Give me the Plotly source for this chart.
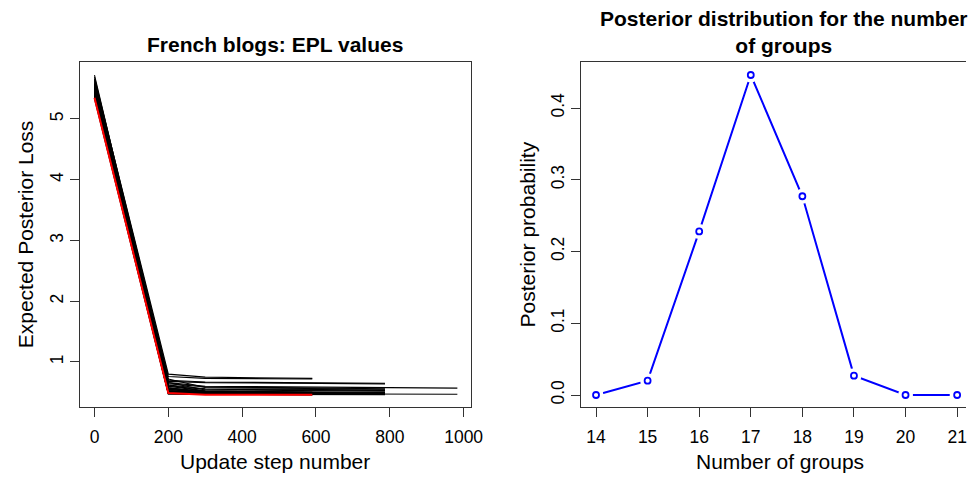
import plotly.graph_objects as go

# ---------------- Left panel data: EPL trajectories ----------------
# Each run: EPL at step 0, at step 200, at step 300, final plateau value, last step
epl_step0 = [5.72, 5.66, 5.62, 5.60, 5.58, 5.56, 5.55, 5.53, 5.52, 5.50,
             5.49, 5.48, 5.47, 5.46, 5.45, 5.44, 5.43, 5.42, 5.41, 5.40,
             5.39, 5.38, 5.44, 5.51, 5.57, 5.47, 5.33, 5.64, 5.36, 5.69]
epl_step200 = [0.60, 0.80, 0.76, 0.62, 0.58, 0.55, 0.70, 0.68, 0.64, 0.52,
               0.50, 0.62, 0.60, 0.66, 0.57, 0.55, 0.48, 0.53, 0.66, 0.51,
               0.52, 0.49, 0.53, 0.57, 0.50, 0.48, 0.47, 0.55, 0.48, 0.72]
epl_step300 = [0.52, 0.75, 0.73, 0.52, 0.49, 0.48, 0.67, 0.66, 0.59, 0.48,
               0.47, 0.56, 0.55, 0.54, 0.52, 0.51, 0.47, 0.49, 0.60, 0.48,
               0.48, 0.47, 0.49, 0.50, 0.48, 0.47, 0.47, 0.50, 0.47, 0.58]
epl_final = [0.50, 0.73, 0.72, 0.50, 0.48, 0.47, 0.65, 0.64, 0.56, 0.47,
             0.46, 0.54, 0.53, 0.52, 0.50, 0.49, 0.47, 0.48, 0.57, 0.47,
             0.47, 0.46, 0.48, 0.49, 0.47, 0.47, 0.46, 0.49, 0.46, 0.55]
last_step = [590, 590, 590, 590, 590, 590, 787, 787, 787, 590,
             590, 787, 787, 787, 787, 787, 787, 787, 983, 983,
             590, 590, 787, 590, 787, 590, 590, 787, 787, 787]

# Best run (red)
red_steps = [0, 200, 300, 590]
red_epl = [5.35, 0.49, 0.46, 0.46]

# ---------------- Right panel data ----------------
n_groups = [14, 15, 16, 17, 18, 19, 20, 21]
post_prob = [0.000, 0.020, 0.228, 0.446, 0.277, 0.027, 0.000, 0.000]

# Target window and browser default body margin (8px) compensation
WIN_W, WIN_H = 979, 478
OFF = 8
W, H = WIN_W - OFF, WIN_H - OFF
FONT = "Liberation Sans, Arial, Helvetica, sans-serif"
AX = "#333333"

def px(xp):
    return (xp - OFF) / W

def py(yp):
    return 1 - (yp - OFF) / H

fig = go.Figure()

for s0, s200, s300, sf, ls in zip(epl_step0, epl_step200, epl_step300, epl_final, last_step):
    fig.add_trace(go.Scatter(
        x=[0, 200, 300, ls], y=[s0, s200, s300, sf],
        mode="lines", line=dict(color="black", width=1.1),
        xaxis="x", yaxis="y", showlegend=False, hoverinfo="skip"))

fig.add_trace(go.Scatter(
    x=red_steps, y=red_epl, mode="lines",
    line=dict(color="#FF0000", width=2),
    xaxis="x", yaxis="y", showlegend=False))

# Right panel: type = "b" (lines with gaps around points)
fig.add_trace(go.Scatter(
    x=n_groups, y=post_prob, mode="lines",
    line=dict(color="#0000FF", width=2),
    xaxis="x2", yaxis="y2", showlegend=False))
fig.add_trace(go.Scatter(
    x=n_groups, y=post_prob, mode="markers",
    marker=dict(symbol="circle", size=15, color="white", line=dict(width=0)),
    xaxis="x2", yaxis="y2", showlegend=False, hoverinfo="skip"))
fig.add_trace(go.Scatter(
    x=n_groups, y=post_prob, mode="markers",
    marker=dict(symbol="circle", size=6, color="white",
                line=dict(color="#0000FF", width=1.8)),
    xaxis="x2", yaxis="y2", showlegend=False))

axis_common = dict(
    showgrid=False, zeroline=False, showline=True, linecolor=AX, linewidth=1,
    ticks="outside", ticklen=9, tickwidth=1, tickcolor=AX,
    tickfont=dict(family=FONT, size=17.5, color="black"),
)

ydom = [py(407), py(62)]

fig.update_layout(
    width=W, height=H,
    margin=dict(l=0, r=0, t=0, b=0),
    paper_bgcolor="white", plot_bgcolor="white",
    showlegend=False,
    xaxis=dict(domain=[px(81), px(477)], range=[-39.2, 1019.2],
               tickvals=[0, 200, 400, 600, 800, 1000], mirror=True,
               ticklabelstandoff=5, anchor="y", **axis_common),
    yaxis=dict(domain=ydom, range=[0.259, 5.938],
               tickvals=[1, 2, 3, 4, 5], tickangle=-90, mirror=True,
               anchor="x", **axis_common),
    xaxis2=dict(domain=[px(589), 1.0], range=[13.713, 21.172],
                tickvals=n_groups, mirror=True, ticklabelstandoff=5,
                anchor="y2", **axis_common),
    yaxis2=dict(domain=ydom, range=[-0.0167, 0.4641],
                tickvals=[0.0, 0.1, 0.2, 0.3, 0.4], ticktext=["0.0", "0.1", "0.2", "0.3", "0.4"],
                tickangle=-90, mirror=False, anchor="x2", **axis_common),
)

ann_font = dict(family=FONT, size=21, color="black")
annotations = [
    dict(text="<b>French blogs: EPL values</b>", x=px(279), y=py(44)),
    dict(text="<b>Posterior distribution for the number<br>of groups</b>", x=px(795), y=py(31.5)),
    dict(text="Update step number", x=px(279), y=py(461)),
    dict(text="Number of groups", x=px(790), y=py(461)),
    dict(text="Expected Posterior Loss", x=px(26), y=py(234.5), textangle=-90),
    dict(text="Posterior probability", x=px(535), y=py(234.5), textangle=-90),
]
for a in annotations:
    a.update(xref="paper", yref="paper", showarrow=False, xanchor="center",
             yanchor="middle", font=ann_font)
fig.update_layout(annotations=annotations)

fig.write_html("out.html")
